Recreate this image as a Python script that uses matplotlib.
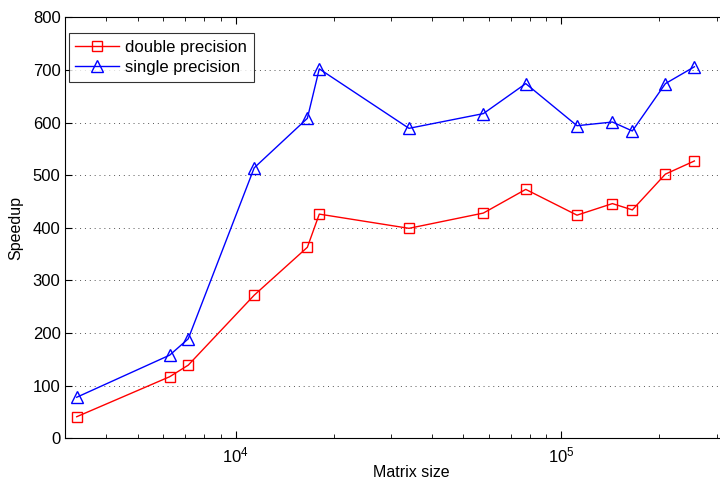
import matplotlib
matplotlib.use("Agg")
import matplotlib.pyplot as plt
from matplotlib.ticker import LogLocator, MultipleLocator, NullFormatter

plt.rcParams['font.family'] = ['Liberation Sans', 'DejaVu Sans']
plt.rcParams['mathtext.fontset'] = 'custom'
plt.rcParams['mathtext.rm'] = 'Liberation Sans'
plt.rcParams['mathtext.it'] = 'Liberation Sans'

# Data
matrix_size = [3250, 6270, 7150, 11400, 16600, 18060, 34050, 57620,
               77750, 111700, 143500, 165200, 208700, 256200]
double_speedup = [41, 117, 139, 272, 363, 426, 399, 428,
                  473, 424, 446, 434, 502, 527]
single_speedup = [78, 158, 189, 514, 608, 702, 589, 617,
                  674, 594, 601, 584, 674, 706]

fig = plt.figure(figsize=(7.2, 4.84), dpi=100)
# axes run past the right edge of the image, as in the reference
ax = fig.add_axes([65.4 / 720, 1 - 438.3 / 484, 692 / 720, (438.3 - 17.3) / 484])

ax.plot(matrix_size, double_speedup, color='red', lw=1.0, marker='s',
        ms=6.5, mfc='none', mew=1.0, label='double precision')
ax.plot(matrix_size, single_speedup, color='blue', lw=1.0, marker='^',
        ms=8.5, mfc='none', mew=1.0, label='single precision')

ax.set_xscale('log')
ax.set_xlim(3000, 4e5)
ax.set_ylim(0, 800)
ax.yaxis.set_major_locator(MultipleLocator(100))
ax.xaxis.set_major_locator(LogLocator(base=10))
ax.xaxis.set_minor_locator(LogLocator(base=10, subs=range(2, 10)))
ax.xaxis.set_minor_formatter(NullFormatter())

ax.grid(axis='y', linestyle=(0, (1, 4)), color='#555555', lw=0.7)
ax.tick_params(which='both', direction='in', top=True, right=True,
               labelsize=12, colors='black')
ax.tick_params(which='major', length=5, width=0.8)
ax.tick_params(which='minor', length=3, width=0.6)
ax.tick_params(axis='x', pad=5)
for s in ax.spines.values():
    s.set_linewidth(0.8)

ax.set_xlabel('Matrix size', fontsize=11.5, labelpad=0)
ax.set_ylabel('Speedup', fontsize=11.5, labelpad=7)

leg = ax.legend(loc='upper left', bbox_to_anchor=(0.0, 0.97), fontsize=12,
                frameon=True, fancybox=False, edgecolor='black',
                handlelength=2.6, borderpad=0.4, labelspacing=0.3,
                handletextpad=0.4, borderaxespad=0.2)
leg.get_frame().set_linewidth(0.8)

fig.savefig('out.png', dpi=100)
